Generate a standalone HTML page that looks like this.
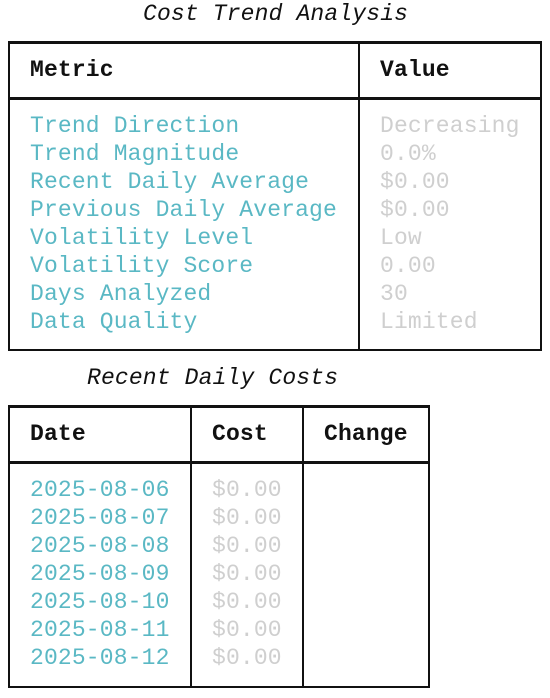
<!DOCTYPE html>
<html><head><meta charset="utf-8"><style>
body{margin:0;width:550px;height:698px;background:#fff;position:relative;font-family:"Liberation Mono",monospace;font-size:23px;letter-spacing:0.15px;overflow:hidden}
.a{position:absolute;line-height:28px;white-space:pre}
.t{font-style:italic;color:#111}
.h{font-weight:bold;color:#111}
.c{color:#5ab8c4}
.g{color:#cfcfcf}
.b{position:absolute;background:#111}
</style></head><body>
<div class="a t" style="left:143px;top:0px">Cost Trend Analysis</div>
<div>
<div class="b" style="left:8px;top:41px;width:534px;height:3px"></div>
<div class="b" style="left:8px;top:97px;width:534px;height:3px"></div>
<div class="b" style="left:8px;top:349px;width:534px;height:2px"></div>
<div class="b" style="left:8px;top:41px;width:2px;height:310px"></div>
<div class="b" style="left:540px;top:41px;width:2px;height:310px"></div>
<div class="b" style="left:358px;top:41px;width:2px;height:310px"></div>
<div class="a h" style="left:30px;top:56px">Metric</div>
<div class="a h" style="left:380px;top:56px">Value</div>
<div id="rows1"></div>
</div>
<div class="a t" style="left:87px;top:364px">Recent Daily Costs</div>
<div>
<div class="b" style="left:8px;top:405px;width:422px;height:3px"></div>
<div class="b" style="left:8px;top:461px;width:422px;height:3px"></div>
<div class="b" style="left:8px;top:686px;width:422px;height:2px"></div>
<div class="b" style="left:8px;top:405px;width:2px;height:283px"></div>
<div class="b" style="left:428px;top:405px;width:2px;height:283px"></div>
<div class="b" style="left:190px;top:405px;width:2px;height:283px"></div>
<div class="b" style="left:302px;top:405px;width:2px;height:283px"></div>
<div class="a h" style="left:30px;top:420px">Date</div>
<div class="a h" style="left:212px;top:420px">Cost</div>
<div class="a h" style="left:324px;top:420px">Change</div>
<div id="rows2"></div>
</div>
<script>
const metrics=["Trend Direction","Trend Magnitude","Recent Daily Average","Previous Daily Average","Volatility Level","Volatility Score","Days Analyzed","Data Quality"];
const values=["Decreasing","0.0%","$0.00","$0.00","Low","0.00","30","Limited"];
const dates=["2025-08-06","2025-08-07","2025-08-08","2025-08-09","2025-08-10","2025-08-11","2025-08-12"];
const costs=["$0.00","$0.00","$0.00","$0.00","$0.00","$0.00","$0.00"];
function cell(parent,cls,x,y,txt,name){const d=document.createElement('div');d.className='a '+cls;d.style.left=x+'px';d.style.top=y+'px';d.textContent=txt;


parent.appendChild(d);}
const r1=document.getElementById('rows1');
metrics.forEach((m,i)=>{cell(r1,'c',30,112+i*28,m,'metric-label');cell(r1,'g',380,112+i*28,values[i],'metric-value');});
const r2=document.getElementById('rows2');
dates.forEach((d,i)=>{cell(r2,'c',30,476+i*28,d,'date-cell');cell(r2,'g',212,476+i*28,costs[i],'cost-cell');});
</script>
</body></html>
